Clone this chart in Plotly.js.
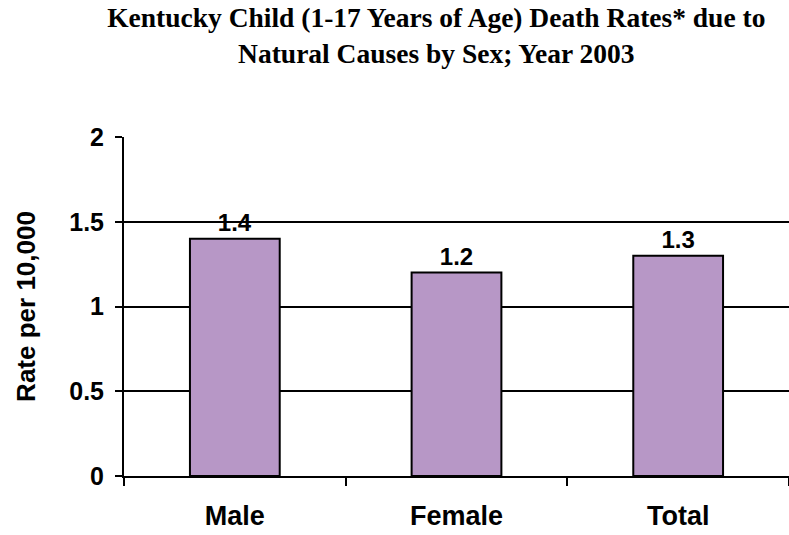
<!DOCTYPE html>
<html>
<head>
<meta charset="utf-8">
<script src="https://cdn.plot.ly/plotly-3.0.1.min.js"></script>
<style>html,body{margin:0;padding:0;overflow:hidden;background:#fff}</style>
</head>
<body>
<div id="chart" style="width:789px;height:535px"></div>
<script>
var categories = ["Male", "Female", "Total"];
var rates = [1.4, 1.2, 1.3];
var rateLabels = ["1.4", "1.2", "1.3"];
var yTickVals = [0, 0.5, 1, 1.5, 2];
var yTickText = ["0", "0.5", "1", "1.5", "2"];

var sans = "Liberation Sans, Arial, sans-serif";

var trace = {
  type: "bar",
  x: categories,
  y: rates,
  text: rateLabels,
  textposition: "outside",
  cliponaxis: false,
  textfont: {family: sans, size: 24, color: "#000", weight: "bold"},
  marker: {color: "#B797C6", line: {color: "#000", width: 2}},
  hoverinfo: "none"
};

var layout = {
  width: 789, height: 535,
  margin: {l: 124, r: 0, t: 137, b: 59},
  paper_bgcolor: "#fff", plot_bgcolor: "#fff",
  showlegend: false,
  bargap: 0.595,
  title: {
    text: "<b>Kentucky Child (1-17 Years of Age) Death Rates* due to<br>Natural Causes by Sex; Year 2003</b>",
    font: {family: "Liberation Serif, Times New Roman, serif", size: 27.5, color: "#000"},
    x: 0.553, xanchor: "center", y: 0.95, yanchor: "top"
  },
  xaxis: {
    range: [-0.5, 2.5],
    showline: true, linecolor: "#000", linewidth: 2,
    ticks: "outside", tickson: "boundaries", ticklen: 8, tickwidth: 2, tickcolor: "#000",
    ticklabelstandoff: 15,
    tickfont: {family: sans, size: 27, color: "#000", weight: "bold"},
    showgrid: false, zeroline: false, fixedrange: true
  },
  yaxis: {
    range: [0, 2],
    tickvals: yTickVals, ticktext: yTickText,
    showline: true, linecolor: "#000", linewidth: 2,
    ticks: "outside", ticklen: 7, tickwidth: 2, tickcolor: "#000",
    ticklabelstandoff: 6,
    tickfont: {family: sans, size: 25, color: "#000", weight: "bold"},
    showgrid: true, gridcolor: "#000", gridwidth: 2,
    zeroline: false, fixedrange: true,
    title: {text: "<b>Rate per 10,000</b>", standoff: 26,
            font: {family: sans, size: 26, color: "#000"}}
  }
};

Plotly.newPlot("chart", [trace], layout, {displayModeBar: false, staticPlot: true});
</script>
</body>
</html>
